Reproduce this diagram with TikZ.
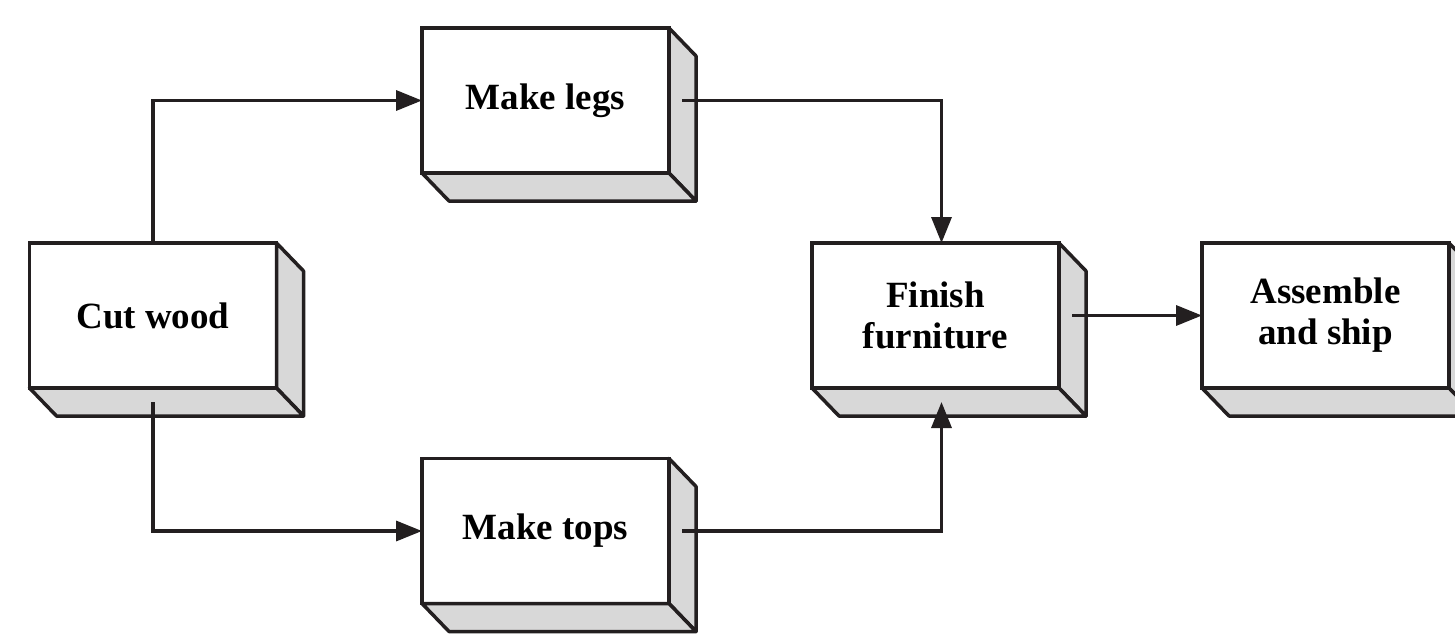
\documentclass[tikz,border=0pt]{standalone}
\usepackage{fontspec}
\setmainfont{Liberation Serif}
\usetikzlibrary{arrows.meta,calc}
\definecolor{ink}{RGB}{35,31,32}
\definecolor{shade}{RGB}{216,216,216}
\begin{document}
\begin{tikzpicture}[x=1pt,y=-1pt,
  face/.style={draw=ink, fill=white, line width=3.5pt, minimum width=247pt,
    minimum height=145pt, outer sep=0pt, inner sep=0pt, align=center,
    font=\fontsize{37}{41}\selectfont\bfseries},
  depth/.style={draw=ink, fill=shade, line width=3.5pt, line join=round},
  flow/.style={draw=ink, line width=3.4pt, -{Triangle[length=26pt,width=20pt]}}]
\useasboundingbox (0,0) rectangle (1455,637);
\clip (0,0) rectangle (1455,637);

% front faces of the process blocks
\node[face] (cut)    at (153,315.5)  {Cut wood};
\node[face] (legs)   at (545.5,100.5) {Make legs};
\node[face] (tops)   at (545.5,531)  {Make tops};
\node[face] (finish) at (935.5,315.5) {Finish\\furniture};
\node[face] (ship)   at (1325.5,315.5) {Assemble\\and ship};

% side and bottom faces giving each block its depth
\foreach \b in {cut,legs,tops,finish,ship}{
  \draw[depth] (\b.north east) -- ++(27,28) -- ($(\b.south east)+(27,28)$)
    -- (\b.south east) -- cycle;
  \draw[depth] (\b.south west) -- ++(27,28) -- ($(\b.south east)+(27,28)$)
    -- (\b.south east) -- cycle;
}

% process flow
\draw[flow] (cut.north) |- (legs.west);
\draw[flow] ($(cut.south)+(0,14)$) |- (tops.west);
\draw[flow] ($(legs.east)+(13,0)$) -| ($(finish.north)+(6,0)$);
\draw[flow] ($(tops.east)+(13,0)$) -| ($(finish.south)+(6,14)$);
\draw[flow] ($(finish.east)+(13,0)$) -- (ship.west);
\end{tikzpicture}
\end{document}
